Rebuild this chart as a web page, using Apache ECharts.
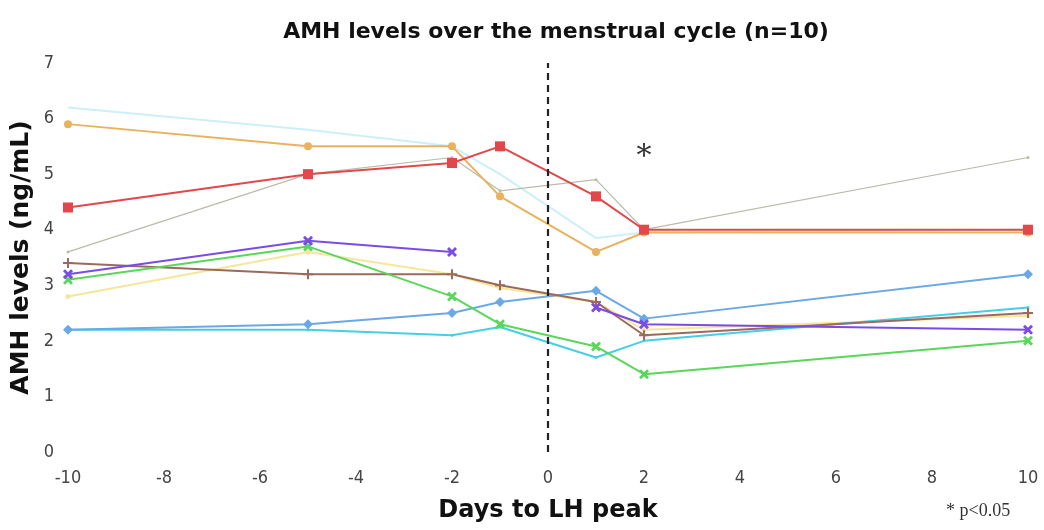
<!DOCTYPE html>
<html>
<head>
<meta charset="utf-8">
<script src="https://cdn.jsdelivr.net/npm/echarts@6/dist/echarts.min.js"></script>
<style>
  html, body { margin: 0; padding: 0; background: #fff; }
  #main { width: 1044px; height: 530px; }
</style>
</head>
<body>
<div id="main"></div>
<script>
// AMH 月经周期折线（10 人）

// X：距 LH 峰天数
const days = [-10, -5, -2, -1, 1, 2, 10];
const xTicks = [-10, -8, -6, -4, -2, 0, 2, 4, 6, 8, 10];

// 各受试者 AMH (ng/mL)，null 为缺失
const paleCyan = [6.2, 5.8, 5.5, 5.0, 3.85, 3.95, 4.0];
const orange   = [5.9, 5.5, 5.5, 4.6, 3.6, 3.95, 3.95];
const red      = [4.4, 5.0, 5.2, 5.5, 4.6, 4.0, 4.0];
const gray     = [3.6, 5.0, 5.3, 4.7, 4.9, 4.0, 5.3];
const purple   = [3.2, 3.8, 3.6, null, 2.6, 2.3, 2.2];
const green    = [3.1, 3.7, 2.8, 2.3, 1.9, 1.4, 2.0];
const brown    = [3.4, 3.2, 3.2, 3.0, 2.7, 2.1, 2.5];
const yellow   = [2.8, 3.6, 3.2, 2.95, 2.7, 2.2, 2.45];
const blue     = [2.2, 2.3, 2.5, 2.7, 2.9, 2.4, 3.2];
const cyan     = [2.2, 2.2, 2.1, 2.25, 1.7, 2.0, 2.6];

const sigPoint = [2, 5.45]; // * 标记位置

const X_SYM = 'path://M0,2L2,0L5,3L8,0L10,2L7,5L10,8L8,10L5,7L2,10L0,8L3,5Z';
const PLUS_SYM = 'path://M4,0H6V4H10V6H6V10H4V6H0V4H4Z';

function mk(name, vals, color, width, symbol, size) {
  return {
    name,
    type: 'line',
    data: days.map((d, i) => [d, vals[i]]),
    connectNulls: false,
    symbol: symbol,
    symbolSize: size,
    showSymbol: symbol !== 'none',
    lineStyle: { width: width, color: color },
    itemStyle: { color: color },
    z: 2
  };
}

const series = [
  mk('s1', paleCyan, '#cdeffa', 2, 'none', 0),
  mk('s2', yellow,   '#f7e69a', 2, 'circle', 5),
  mk('s3', gray,     '#b9bcaa', 1.2, 'circle', 3),
  mk('s4', orange,   '#e9b25e', 2, 'circle', 8),
  mk('s5', red,      '#e2474b', 2, 'rect', 10),
  mk('s6', cyan,     '#45cfe6', 2, 'circle', 3),
  mk('s7', blue,     '#6aa8e6', 2, 'diamond', 10),
  mk('s8', brown,    '#9b6a5c', 2, PLUS_SYM, 10),
  mk('s9', green,    '#5ad65a', 2, X_SYM, 10),
  mk('s10', purple,  '#7a4be6', 2, X_SYM, 10)
];

// 垂直虚线 (x=0) 与星号
series.push({
  name: 'lh',
  type: 'line',
  data: [],
  markLine: {
    silent: true,
    symbol: 'none',
    label: { show: false },
    lineStyle: { type: [7, 5], color: '#222', width: 2.2 },
    data: [[{ coord: [0, 0] }, { coord: [0, 7] }]]
  },
  markPoint: {
    symbol: 'circle',
    symbolSize: 0,
    label: { show: true, formatter: '*', color: '#333', fontSize: 30, fontFamily: 'DejaVu Serif', offset: [0, 8] },
    data: [{ coord: sigPoint }]
  }
});

const chart = echarts.init(document.getElementById('main'));
chart.setOption({
  animation: false,
  title: {
    text: 'AMH levels over the menstrual cycle (n=10)',
    left: 551, top: 16, textAlign: 'center',
    textStyle: { fontFamily: 'DejaVu Sans', fontWeight: 'bold', fontSize: 22, color: '#111' }
  },
  grid: { left: 68, right: 16, top: 63, bottom: 78, containLabel: false, outerBoundsMode: 'none' },
  xAxis: {
    type: 'value', min: -10, max: 10, interval: 2,
    axisLine: { show: false }, axisTick: { show: false }, splitLine: { show: false },
    axisLabel: { fontFamily: 'DejaVu Sans Condensed', fontSize: 18, color: '#444', margin: 17,
      formatter: v => xTicks.includes(v) ? String(v) : '' },
    name: 'Days to LH peak', nameLocation: 'middle', nameGap: 47, nameMoveOverlap: false,
    nameTextStyle: { fontFamily: 'DejaVu Sans', fontWeight: 'bold', fontSize: 24, color: '#111' }
  },
  yAxis: {
    type: 'value', min: 0, max: 7, interval: 1,
    axisLine: { show: false }, axisTick: { show: false }, splitLine: { show: false },
    axisLabel: { fontFamily: 'DejaVu Sans Condensed', fontSize: 18, color: '#444', margin: 14 },
    name: 'AMH levels (ng/mL)', nameLocation: 'middle', nameGap: 34, nameRotate: 90, nameMoveOverlap: false,
    nameTextStyle: { fontFamily: 'DejaVu Sans', fontWeight: 'bold', fontSize: 25, color: '#111' }
  },
  graphic: [{
    type: 'text', left: 946, top: 502,
    style: { text: '* p<0.05', font: '18px "Liberation Serif"', fill: '#333' }
  }],
  series: series
});
</script>
</body>
</html>
